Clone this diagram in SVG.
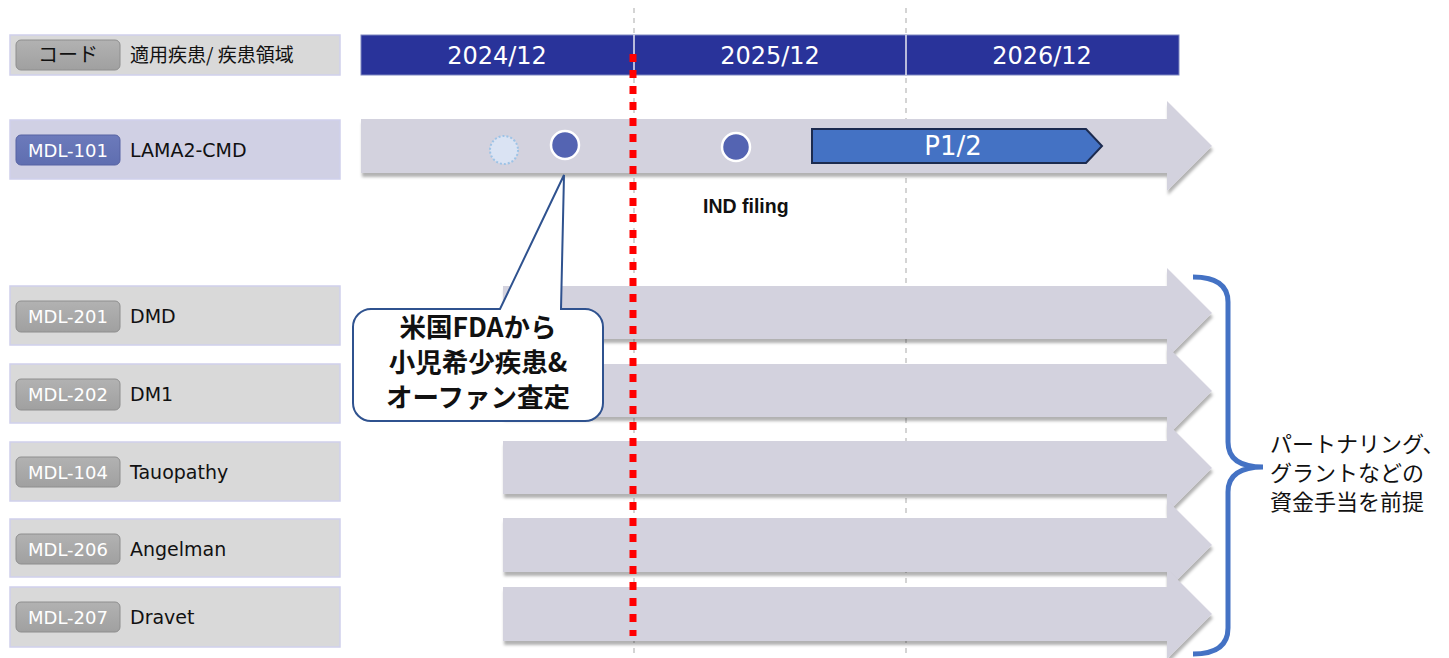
<svg xmlns="http://www.w3.org/2000/svg" width="1449" height="658" viewBox="0 0 1449 658">
<style>
.row{fill:#d9d9d9;stroke:#cfd0ec;stroke-width:1.5}
.rowsel{fill:#d0d0e4;stroke:#cfd0ec;stroke-width:1.5}
.badge{fill:url(#gb);stroke:#8e8e8e;stroke-width:1}
.badgesel{fill:url(#bb);stroke:#5763a3;stroke-width:1}
.bt{font-family:"DejaVu Sans","Liberation Sans",sans-serif;font-size:18px;fill:#ffffff;text-anchor:middle}
.nm{font-family:"DejaVu Sans","Liberation Sans",sans-serif;font-size:19px;fill:#111111}
.jp{font-family:"Noto Sans CJK JP",sans-serif}
.arr{fill:#d3d2de;filter:url(#sh)}
.grid{stroke:#bdbdbd;stroke-width:1.3;stroke-dasharray:5 5;fill:none}
.yr{font-family:"DejaVu Sans","Liberation Sans",sans-serif;font-size:24px;fill:#ffffff;text-anchor:middle}
.ms{fill:#5464b2;stroke:#ffffff;stroke-width:2.5}
</style>
<defs>
<linearGradient id="gb" x1="0" y1="0" x2="0" y2="1">
<stop offset="0" stop-color="#b2b2b2"/><stop offset="1" stop-color="#a0a0a0"/>
</linearGradient>
<linearGradient id="bb" x1="0" y1="0" x2="0" y2="1">
<stop offset="0" stop-color="#6c7abb"/><stop offset="1" stop-color="#5f6eb0"/>
</linearGradient>
<filter id="sh" x="-5%" y="-20%" width="112%" height="150%">
<feDropShadow dx="1" dy="4" stdDeviation="1.5" flood-color="#000000" flood-opacity="0.3"/>
</filter>
</defs>
<rect width="1449" height="658" fill="#ffffff"/>

<g id="grid">
<line class="grid" x1="634" y1="8" x2="634" y2="658"/>
<line class="grid" x1="906" y1="8" x2="906" y2="658"/>
</g>

<g id="arrows">
<path class="arr" d="M361,119 H1167 V101 L1212,146 L1167,191 V173 H361 Z"/>
<path class="arr" d="M503,286 H1167 V268 L1212,313 L1167,358 V339 H503 Z"/>
<path class="arr" d="M503,364 H1167 V346 L1212,391 L1167,436 V417 H503 Z"/>
<path class="arr" d="M503,441 H1167 V423 L1212,468 L1167,513 V494 H503 Z"/>
<path class="arr" d="M503,518 H1167 V500 L1212,545 L1167,590 V572 H503 Z"/>
<path class="arr" d="M503,587 H1167 V569 L1212,614 L1167,659 V641 H503 Z"/>
</g>

<g id="timeline-header">
<rect x="361" y="35" width="818" height="40" fill="#29339a" stroke="#7d86c0" stroke-width="1"/>
<line x1="634" y1="35" x2="634" y2="75" stroke="#e8e8f0" stroke-width="1.5"/>
<line x1="906" y1="35" x2="906" y2="75" stroke="#e8e8f0" stroke-width="1.5"/>
<text class="yr" x="497" y="64">2024/12</text>
<text class="yr" x="770" y="64">2025/12</text>
<text class="yr" x="1042" y="64">2026/12</text>
</g>

<g id="row-header">
<rect class="row" x="10" y="35" width="330" height="40"/>
<rect class="badge" x="16" y="40" width="104" height="30" rx="5"/>
<text class="jp" x="68" y="62" font-size="20" fill="#111111" text-anchor="middle">コード</text>
<text class="jp" x="130" y="62" font-size="19" fill="#111111">適用疾患/ 疾患領域</text>
</g>

<g id="row-mdl101">
<rect class="rowsel" x="10" y="120" width="330" height="59"/>
<rect class="badgesel" x="16" y="135" width="104" height="30" rx="5"/>
<text class="bt" x="68" y="157">MDL-101</text>
<text class="nm" x="130" y="157">LAMA2-CMD</text>
</g>

<g id="row-mdl201">
<rect class="row" x="10" y="286" width="330" height="59"/>
<rect class="badge" x="16" y="301" width="104" height="31" rx="5"/>
<text class="bt" x="68" y="323">MDL-201</text>
<text class="nm" x="130" y="323">DMD</text>
</g>

<g id="row-mdl202">
<rect class="row" x="10" y="364" width="330" height="59"/>
<rect class="badge" x="16" y="379" width="104" height="31" rx="5"/>
<text class="bt" x="68" y="401">MDL-202</text>
<text class="nm" x="130" y="401">DM1</text>
</g>

<g id="row-mdl104">
<rect class="row" x="10" y="442" width="330" height="59"/>
<rect class="badge" x="16" y="457" width="104" height="30" rx="5"/>
<text class="bt" x="68" y="479">MDL-104</text>
<text class="nm" x="130" y="479">Tauopathy</text>
</g>

<g id="row-mdl206">
<rect class="row" x="10" y="519" width="330" height="58"/>
<rect class="badge" x="16" y="534" width="104" height="30" rx="5"/>
<text class="bt" x="68" y="556">MDL-206</text>
<text class="nm" x="130" y="556">Angelman</text>
</g>

<g id="row-mdl207">
<rect class="row" x="10" y="587" width="330" height="60"/>
<rect class="badge" x="16" y="602" width="104" height="30" rx="5"/>
<text class="bt" x="68" y="624">MDL-207</text>
<text class="nm" x="130" y="624">Dravet</text>
</g>

<g id="milestones">
<circle cx="504" cy="150" r="14" fill="#dae3f3" stroke="#9dc3e6" stroke-width="2" stroke-dasharray="2 2"/>
<circle class="ms" cx="565" cy="145" r="14"/>
<circle class="ms" cx="736" cy="147" r="14"/>
<text x="703" y="213" font-family="Liberation Sans, Arial, sans-serif" font-size="19.5" font-weight="bold" fill="#111111">IND filing</text>
</g>

<g id="phase-p12">
<path d="M812,129 H1086 L1102,146 L1086,163 H812 Z" fill="#4472c4" stroke="#1c2b4f" stroke-width="2"/>
<text x="953" y="155" font-family="DejaVu Sans, Liberation Sans, sans-serif" font-size="26" fill="#ffffff" text-anchor="middle">P1/2</text>
</g>

<g id="callout">
<path d="M372,309 H500 L564,175 L561,309 H585 A18,18 0 0 1 603,327 V403 A18,18 0 0 1 585,421 H371 A18,18 0 0 1 353,403 V327 A18,18 0 0 1 371,309 Z" fill="#ffffff" stroke="#2f528f" stroke-width="2"/>
<text class="jp" font-size="26.5" font-weight="bold" fill="#111111" text-anchor="middle"><tspan x="478" y="337">米国FDAから</tspan><tspan x="478" y="372">小児希少疾患&amp;</tspan><tspan x="478" y="407">オーファン査定</tspan></text>
</g>

<g id="today-line">
<line x1="633" y1="54" x2="633" y2="636" stroke="#ff0000" stroke-width="7" stroke-dasharray="8 8"/>
</g>

<g id="brace">
<path d="M1193,277 Q1228,277 1228,302 V442 Q1228,467 1263,467 Q1228,467 1228,492 V628 Q1228,654 1193,654" fill="none" stroke="#4472c4" stroke-width="5"/>
<g class="jp" font-size="22" fill="#111111">
<text x="1270" y="452">パートナリング、</text>
<text x="1270" y="481">グラントなどの</text>
<text x="1270" y="510">資金手当を前提</text>
</g>
</g>
</svg>
